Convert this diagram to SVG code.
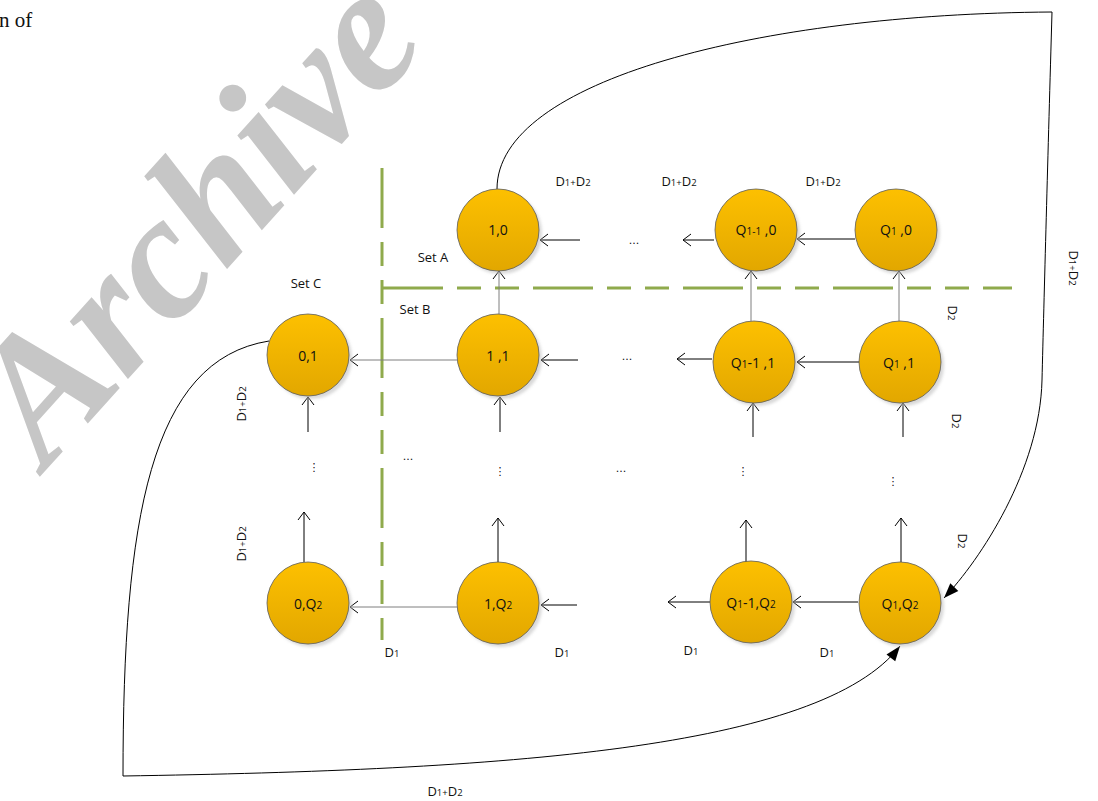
<svg xmlns="http://www.w3.org/2000/svg" width="1098" height="801" viewBox="0 0 1098 801">
  <defs>
    <linearGradient id="nodeFill" x1="0" y1="0" x2="0" y2="1">
      <stop offset="0" stop-color="#FDC000"/>
      <stop offset="1" stop-color="#E2A700"/>
    </linearGradient>
    <filter id="soft" x="-20%" y="-20%" width="140%" height="140%">
      <feGaussianBlur stdDeviation="1.5"/>
    </filter>
    <marker id="open" viewBox="-10 -7 12 14" refX="0" refY="0" markerWidth="12" markerHeight="14" markerUnits="userSpaceOnUse" orient="auto">
      <path d="M-8,-6 L0,0 L-8,6" fill="none" stroke="#000" stroke-width="1"/>
    </marker>
    <marker id="solid" viewBox="-16 -7 17 14" refX="0" refY="0" markerWidth="17" markerHeight="14" markerUnits="userSpaceOnUse" orient="auto">
      <path d="M-15,-5.5 L0,0 L-15,5.5 Z" fill="#000"/>
    </marker>
  </defs>
  <style>
    .node circle.body { fill: url(#nodeFill); stroke: #5A5A5A; stroke-width: 0.8; }
    .node circle.shade { fill: #BFBFBF; opacity: 0.6; filter: url(#soft); }
    .node text { font-family: "Open Sans", "Noto Sans", sans-serif; font-size: 14px; fill: #111; text-anchor: middle; }
    .sub { font-size: 10px; }
    .lbl { font-family: "Open Sans", "Noto Sans", sans-serif; font-size: 13px; fill: #111; text-anchor: middle; }
    .lsub { font-size: 9.5px; }
    .dots { font-family: "DejaVu Sans", sans-serif; font-size: 11px; fill: #111; text-anchor: middle; }
    .arr { stroke: #000; stroke-width: 1; fill: none; marker-end: url(#open); }
    .arr-g { stroke: #7F7F7F; stroke-width: 1; fill: none; marker-end: url(#open); }
    .loop { stroke: #000; stroke-width: 1; fill: none; marker-end: url(#solid); }
    .border { stroke: #8FAA4C; stroke-width: 3; fill: none; stroke-dasharray: 60 14 24 14 24 14; }
    .wm { font-family: "Liberation Serif", serif; font-weight: bold; font-style: italic; font-size: 178px; fill: #C6C6C6; }
  </style>

  <rect width="1098" height="801" fill="#fff"/>

  <!-- running text cut off at the page edge and the archive stamp -->
  <text x="-1" y="27" font-family="Liberation Serif, serif" font-size="21" fill="#111">n of</text>
  <text class="wm" transform="translate(46,470) rotate(-48)">Archive</text>

  <!-- dashed borders between the state sets -->
  <g id="borders">
    <line class="border" x1="382" y1="168" x2="382" y2="640"/>
    <line class="border" x1="383" y1="288" x2="1012" y2="288"/>
  </g>

  <!-- transitions -->
  <g id="connectors">
    <!-- row 0 -->
    <line class="arr" x1="580" y1="240" x2="540" y2="240"/>
    <line class="arr" x1="714" y1="240" x2="683" y2="240"/>
    <line class="arr" x1="855" y1="239" x2="797" y2="239"/>
    <!-- row 1 up to row 0 -->
    <line class="arr-g" x1="499" y1="314" x2="499" y2="271"/>
    <line class="arr-g" x1="751" y1="321" x2="751" y2="271"/>
    <line class="arr-g" x1="899" y1="321" x2="899" y2="271"/>
    <!-- row 1 -->
    <line class="arr-g" x1="457" y1="360" x2="350" y2="360"/>
    <line class="arr" x1="578" y1="360" x2="541" y2="360"/>
    <line class="arr" x1="712" y1="359" x2="677" y2="359"/>
    <line class="arr" x1="859" y1="362" x2="797" y2="362"/>
    <!-- into row 1 from below -->
    <line class="arr" x1="308" y1="432" x2="308" y2="397"/>
    <line class="arr" x1="500" y1="432" x2="500" y2="397"/>
    <line class="arr" x1="753" y1="437" x2="753" y2="403"/>
    <line class="arr" x1="903" y1="437" x2="903" y2="403"/>
    <!-- out of row Q2 upward -->
    <line class="arr" x1="304" y1="562" x2="304" y2="512"/>
    <line class="arr" x1="498" y1="562" x2="498" y2="518"/>
    <line class="arr" x1="746" y1="562" x2="746" y2="520"/>
    <line class="arr" x1="901" y1="562" x2="901" y2="518"/>
    <!-- row Q2 -->
    <line class="arr-g" x1="457" y1="607" x2="350" y2="607"/>
    <line class="arr" x1="577" y1="605" x2="541" y2="605"/>
    <line class="arr" x1="710" y1="602" x2="668" y2="602"/>
    <line class="arr" x1="858" y1="602" x2="793" y2="602"/>
    <!-- long return paths -->
    <path class="loop" d="M497,189 C497,80 760,14 1052,12 C1048,150 1044,300 1042,380 C1040,470 980,560 944,598"/>
    <path class="loop" d="M269,341 C150,360 123,520 123,776 C500,770 820,750 900,646"/>
  </g>

  <!-- ellipses standing for the omitted states -->
  <g id="ellipses">
    <text class="dots" x="634" y="244">...</text>
    <text class="dots" x="627" y="360">...</text>
    <text class="dots" x="408" y="460">...</text>
    <text class="dots" x="621" y="472">...</text>
    <text class="dots" x="314" y="471">⋮</text>
    <text class="dots" x="500" y="475">⋮</text>
    <text class="dots" x="743" y="475">⋮</text>
    <text class="dots" x="893" y="485">⋮</text>
  </g>

  <!-- rate and set labels -->
  <g id="labels">
    <text class="lbl" x="573" y="186">D<tspan class="lsub">1+</tspan>D<tspan class="lsub">2</tspan></text>
    <text class="lbl" x="679" y="186">D<tspan class="lsub">1+</tspan>D<tspan class="lsub">2</tspan></text>
    <text class="lbl" x="823" y="186">D<tspan class="lsub">1+</tspan>D<tspan class="lsub">2</tspan></text>
    <text class="lbl" x="433" y="262">Set A</text>
    <text class="lbl" x="306" y="288">Set C</text>
    <text class="lbl" x="415" y="314">Set B</text>
    <text class="lbl" transform="translate(948,313) rotate(90)">D<tspan class="lsub">2</tspan></text>
    <text class="lbl" transform="translate(952,421) rotate(90)">D<tspan class="lsub">2</tspan></text>
    <text class="lbl" transform="translate(958,541) rotate(90)">D<tspan class="lsub">2</tspan></text>
    <text class="lbl" transform="translate(1069,268) rotate(90)">D<tspan class="lsub">1+</tspan>D<tspan class="lsub">2</tspan></text>
    <text class="lbl" transform="translate(246,404) rotate(-90)">D<tspan class="lsub">1+</tspan>D<tspan class="lsub">2</tspan></text>
    <text class="lbl" transform="translate(246,544) rotate(-90)">D<tspan class="lsub">1+</tspan>D<tspan class="lsub">2</tspan></text>
    <text class="lbl" x="392" y="657">D<tspan class="lsub">1</tspan></text>
    <text class="lbl" x="562" y="657">D<tspan class="lsub">1</tspan></text>
    <text class="lbl" x="691" y="655">D<tspan class="lsub">1</tspan></text>
    <text class="lbl" x="827" y="657">D<tspan class="lsub">1</tspan></text>
    <text class="lbl" x="445" y="796">D<tspan class="lsub">1+</tspan>D<tspan class="lsub">2</tspan></text>
  </g>

  <!-- states -->
  <g id="n-1-0" class="node"><circle class="shade" cx="501" cy="233" r="41"/><circle class="body" cx="498" cy="230" r="41"/><text x="498" y="235">1,0</text></g>
  <g id="n-q1m1-0" class="node"><circle class="shade" cx="759" cy="233" r="41"/><circle class="body" cx="756" cy="230" r="41"/><text x="756" y="235">Q<tspan class="sub">1-1</tspan> ,0</text></g>
  <g id="n-q1-0" class="node"><circle class="shade" cx="899" cy="233" r="41"/><circle class="body" cx="896" cy="230" r="41"/><text x="896" y="235">Q<tspan class="sub">1</tspan> ,0</text></g>

  <g id="n-0-1" class="node"><circle class="shade" cx="311" cy="358" r="41"/><circle class="body" cx="308" cy="355" r="41"/><text x="308" y="361">0,1</text></g>
  <g id="n-1-1" class="node"><circle class="shade" cx="501" cy="358" r="41"/><circle class="body" cx="498" cy="355" r="41"/><text x="498" y="361">1 ,1</text></g>
  <g id="n-q1m1-1" class="node"><circle class="shade" cx="757" cy="365" r="41"/><circle class="body" cx="754" cy="362" r="41"/><text x="753" y="368">Q<tspan class="sub">1</tspan>-1 ,1</text></g>
  <g id="n-q1-1" class="node"><circle class="shade" cx="903" cy="365" r="41"/><circle class="body" cx="900" cy="362" r="41"/><text x="899" y="368">Q<tspan class="sub">1</tspan> ,1</text></g>

  <g id="n-0-q2" class="node"><circle class="shade" cx="311" cy="606" r="41"/><circle class="body" cx="308" cy="603" r="41"/><text x="308" y="609">0,Q<tspan class="sub">2</tspan></text></g>
  <g id="n-1-q2" class="node"><circle class="shade" cx="501" cy="606" r="41"/><circle class="body" cx="498" cy="603" r="41"/><text x="498" y="609">1,Q<tspan class="sub">2</tspan></text></g>
  <g id="n-q1m1-q2" class="node"><circle class="shade" cx="754" cy="605" r="41"/><circle class="body" cx="751" cy="602" r="41"/><text x="751" y="608">Q<tspan class="sub">1</tspan>-1,Q<tspan class="sub">2</tspan></text></g>
  <g id="n-q1-q2" class="node"><circle class="shade" cx="903" cy="606" r="41"/><circle class="body" cx="900" cy="603" r="41"/><text x="900" y="609">Q<tspan class="sub">1</tspan>,Q<tspan class="sub">2</tspan></text></g>
</svg>
